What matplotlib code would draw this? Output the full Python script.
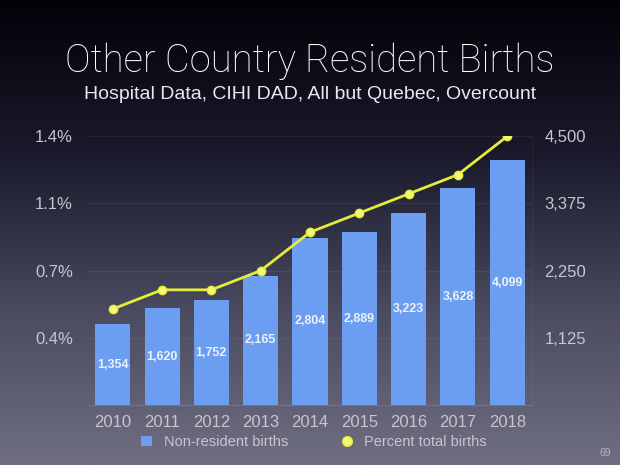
import numpy as np
import matplotlib.pyplot as plt
from matplotlib.colors import LinearSegmentedColormap
from matplotlib.lines import Line2D
from matplotlib.patches import Patch

# chart data
years = ['2010', '2011', '2012', '2013', '2014', '2015', '2016', '2017', '2018']
births = [1354, 1620, 1752, 2165, 2804, 2889, 3223, 3628, 4099]
percent = [0.50, 0.60, 0.60, 0.70, 0.90, 1.00, 1.10, 1.20, 1.40]

left_ticks = [0.35, 0.70, 1.05, 1.40]
left_labels = ['0.4%', '0.7%', '1.1%', '1.4%']
right_ticks = [1125, 2250, 3375, 4500]

bar_color = '#6b9df0'
line_color = '#e4ec3c'
tick_color = '#c6c6ce'
font = ['Liberation Sans', 'DejaVu Sans']

fig = plt.figure(figsize=(6.2, 4.65), dpi=100)

# gradient background
bg = fig.add_axes([0, 0, 1, 1])
cmap = LinearSegmentedColormap.from_list('bg', ['#020208', '#1a1a2c', '#4a4a60', '#6f6e82'])
grad = np.linspace(0, 1, 256).reshape(-1, 1)
bg.imshow(grad, aspect='auto', cmap=cmap, extent=[0, 1, 0, 1], origin='upper')
bg.axis('off')

fig.text(0.5, 0.868, 'Other Country Resident Births', ha='center', va='center',
         color='white', fontsize=27.5, family=['Roboto', 'DejaVu Sans'], fontweight='light')
fig.text(0.5, 0.797, 'Hospital Data, CIHI DAD, All but Quebec, Overcount', ha='center',
         va='center', color='#e8e8ee', fontsize=14, family=font)

ax = fig.add_axes([0.142, 0.129, 0.716, 0.578])
ax.patch.set_alpha(0)
x = np.arange(len(years))

# faint gridlines
for t in right_ticks:
    ax.axhline(t, color='#ffffff', alpha=0.06, linewidth=1, zorder=0)

ax.bar(x, births, width=0.71, color=bar_color, zorder=2)
for xi, v in zip(x, births):
    ax.text(xi, v / 2, f'{v:,}', ha='center', va='center', color='#eef1f8',
            fontsize=9, fontweight='bold', family=font, zorder=3)
ax.set_ylim(0, 4500)
ax.set_xlim(-0.5, len(years) - 0.5)
ax.set_xticks(x)
ax.set_xticklabels(years)
for s in ['top', 'left']:
    ax.spines[s].set_visible(False)
ax.spines['right'].set_color((1, 1, 1, 0.06))
ax.spines['bottom'].set_color((1, 1, 1, 0.12))

ax2 = ax.twinx()
ax2.set_ylim(0, 1.4)
ax2.plot(x, percent, color=line_color, linewidth=2.0, marker='o', markersize=6,
         markerfacecolor='#f4f870', markeredgecolor=line_color, zorder=4)
for s in ax2.spines.values():
    s.set_visible(False)

# right axis: counts, left axis: percent
ax.yaxis.tick_right()
ax.set_yticks(right_ticks)
ax.set_yticklabels([f'{t:,}' for t in right_ticks])
ax2.yaxis.tick_left()
ax2.set_yticks(left_ticks)
ax2.set_yticklabels(left_labels)

ax.tick_params(length=0, colors=tick_color, labelsize=12, pad=9)
ax.tick_params(axis='x', labelsize=12, pad=7)
ax2.tick_params(length=0, colors=tick_color, labelsize=12, pad=11)
for lab in ax.get_xticklabels() + ax.get_yticklabels() + ax2.get_yticklabels():
    lab.set_family(font)

handles = [Patch(facecolor=bar_color, edgecolor='none'),
           Line2D([], [], linestyle='none', marker='o', markersize=7,
                  markerfacecolor='#f4f870', markeredgecolor=line_color)]
fig.legend(handles, ['Non-resident births', 'Percent total births'], loc='center',
           bbox_to_anchor=(0.506, 0.049), ncol=2, frameon=False,
           labelcolor=tick_color, columnspacing=3.6, handlelength=0.8, handletextpad=0.8,
           prop={'family': font, 'size': 10.5})

fig.text(0.986, 0.026, '69', ha='right', va='center', color='#b8b8c4', fontsize=7.5, family=font)

plt.savefig('out.png', dpi=100)
